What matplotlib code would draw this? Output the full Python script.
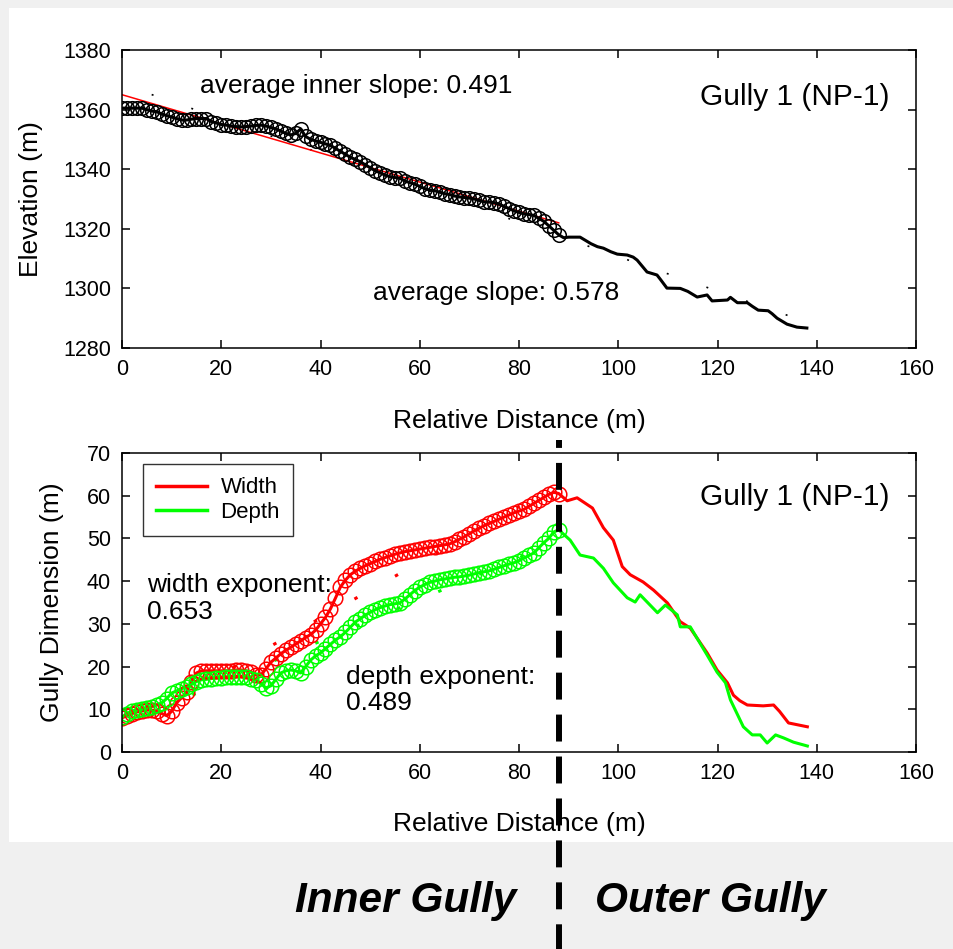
import numpy as np
import matplotlib
matplotlib.use("Agg")
import matplotlib.pyplot as plt
from matplotlib.patches import Rectangle
from matplotlib.transforms import blended_transform_factory

plt.rcParams['font.family'] = ['Liberation Sans', 'DejaVu Sans']
plt.rcParams['lines.scale_dashes'] = False

# elevation profile, circles part (1 m steps, 0..88)
dist_in = list(range(0, 89))
elev_in = [1360.5, 1360.5, 1360.5, 1360.5, 1360.5, 1360, 1359.5, 1359.3, 1358.5, 1358,
           1357.5, 1357, 1356.5, 1356.5, 1356.8, 1357, 1357, 1357, 1356, 1355.5,
           1355, 1354.8, 1354.5, 1354.3, 1354.2, 1354.3, 1354.5, 1354.7, 1354.8, 1354.5,
           1354, 1353.5, 1352.8, 1352, 1351.5, 1352, 1353.5, 1351, 1350, 1349.5,
           1349, 1348.5, 1348, 1347, 1346, 1345, 1344, 1343.3, 1342.5, 1341.5,
           1340.5, 1339.5, 1338.8, 1338, 1337.5, 1337.2, 1337, 1336, 1335.5, 1335,
           1334.2, 1333.5, 1333, 1332.8, 1332.3, 1331.8, 1331.5, 1331, 1330.7, 1330.5,
           1330.3, 1330, 1329.5, 1329, 1329, 1328.8, 1328.3, 1327.5, 1326.8, 1326,
           1325.5, 1325, 1324.8, 1324.5, 1323.5, 1322.5, 1321, 1319.5, 1318]
# outer part of the profile (line only)
dist_out = [89, 90, 92.3, 93, 94.5, 95.8, 97, 98.5, 99.8, 101.8, 103, 103.8, 104.8, 105.8,
            107.8, 108.5, 109.8, 112.5, 114, 115.9, 117.9, 118.9, 122, 122.6, 124, 126,
            127, 128.2, 130.2, 131, 132, 134, 136, 138]
elev_out = [1317, 1317.2, 1317.2, 1316.5, 1315, 1314, 1313.5, 1312.3, 1311.5, 1311.2,
            1310.5, 1309.5, 1307.5, 1305.5, 1304.5, 1303, 1300.1, 1300, 1299, 1297.1,
            1297.8, 1295.8, 1296.1, 1297, 1295.2, 1295.2, 1294, 1292.7, 1292.5, 1291.5,
            1290, 1288, 1287, 1286.7]

# gully width and depth, inner part (1 m steps, 0..88)
width_in = [8, 8.5, 9, 9.4, 9.6, 9.8, 9.8, 9.5, 9, 8.5,
            9.5, 11.5, 12.7, 14, 16.5, 18.5, 19, 19, 19, 19,
            19, 19, 19, 19.2, 19.2, 19, 18.7, 18, 18, 19.5,
            21, 22, 23, 23.8, 24.5, 25.3, 26, 26.8, 27.5, 28.5,
            30, 31.5, 33.5, 36, 38.6, 40.2, 41.5, 42.3, 43, 43.6,
            44.1, 44.6, 45.1, 45.5, 45.9, 46.3, 46.6, 46.9, 47.1, 47.3,
            47.5, 47.7, 47.9, 48.1, 48.3, 48.5, 48.7, 49.2, 49.8, 50.4,
            51.1, 51.8, 52.4, 53, 53.5, 54, 54.5, 55, 55.5, 56,
            56.4, 56.8, 57.5, 58.2, 58.9, 59.6, 60.3, 60.8, 60.5]
depth_in = [8.2, 9, 9.6, 9.8, 10, 10.3, 10.6, 11, 11.5, 12.5,
            13.8, 14.3, 14.8, 15.2, 15.8, 16.5, 16.9, 17, 17.2, 17.3,
            17.4, 17.5, 17.6, 17.6, 17.6, 17.5, 17.2, 16.9, 16, 15,
            15.5, 17, 18.5, 19, 19.2, 19, 18.5, 20, 21.5, 22.5,
            23.2, 24.2, 25.2, 26.2, 27, 28, 29.2, 30.4, 31.2, 32,
            32.7, 33.3, 33.8, 34.2, 34.5, 34.7, 34.9, 35.8, 36.8, 37.8,
            38.6, 39.2, 39.7, 40, 40.3, 40.5, 40.7, 40.9, 41, 41.2,
            41.4, 41.7, 42, 42.2, 42.4, 42.8, 43.2, 43.6, 44, 44.3,
            44.8, 45.4, 46, 46.6, 47.8, 49, 50, 51.5, 52]
# outer part (line only)
wdist_out = [89.7, 91.7, 93, 94.8, 97, 99, 100.8, 102.4, 105, 107.1, 109.9, 112.5, 114.5,
             117.9, 119.9, 122, 123.2, 124.5, 126, 129.2, 131.3, 132.5, 134.3, 138.1]
width_out = [58.8, 59.5, 58.5, 57.1, 52.5, 49.6, 43.4, 41.5, 39.8, 37.9, 34.9, 30.5, 29,
             23.2, 19.2, 16.2, 13.3, 12, 11, 10.8, 11, 9.5, 6.8, 5.9]
ddist_out = [90.3, 92.3, 95, 97, 99, 101.8, 103.4, 104.4, 107.9, 109.5, 111.9, 112.5, 114.5,
             117.9, 119.9, 121.6, 122.6, 125.2, 127, 128.6, 130, 131.7, 133.3, 135.3, 138.1]
depth_out = [49.6, 46.1, 45.4, 43, 39.6, 36.1, 35.1, 36.8, 32.6, 34.4, 32.1, 29.3, 29.3,
             22.7, 18.7, 16.2, 12.2, 5.9, 4, 4, 2.1, 4, 3.3, 2.3, 1.4]

# fitted lines (start, end)
inner_fit_x = [0, 88]
inner_fit_y = [1365, 1322]
avg_fit_x = [0, 138]
avg_fit_y = [1368.5, 1288.7]
wfit_x = [0, 88]
wfit_y = [5.2, 62.7]
dfit_x = [0, 88]
dfit_y = [6.4, 49.4]
boundary = 88

fig = plt.figure(figsize=(9.54, 9.49), dpi=100, facecolor='#f0f0f0')
fig.patches.append(Rectangle((9 / 954, 1 - 842 / 949), 1, (842 - 8) / 949,
                             transform=fig.transFigure, facecolor='white',
                             edgecolor='none', zorder=-10))

ax1 = fig.add_axes([0.1279, 0.6333, 0.8323, 0.314])
ax2 = fig.add_axes([0.1279, 0.2076, 0.8323, 0.3151])

for ax in (ax1, ax2):
    ax.set_xlim(0, 160)
    ax.set_xticks(range(0, 161, 20))
    ax.tick_params(direction='in', length=6, width=1.1, top=True, right=True,
                   labelsize=15.5, pad=8, colors='black')
    for s in ax.spines.values():
        s.set_linewidth(1.1)

# top panel
ax1.set_ylim(1280, 1380)
ax1.set_yticks(range(1280, 1381, 20))
ax1.plot(avg_fit_x, avg_fit_y, color='black', lw=1.2, linestyle=(7.6, (1.4, 28.8)))
ax1.plot(inner_fit_x, inner_fit_y, color='red', lw=1.1)
ax1.plot(dist_in + dist_out, elev_in + elev_out, color='black', lw=2.2)
ax1.plot(dist_in, elev_in, 'o', mfc='none', mec='black', ms=9.8, mew=1.1)
ax1.text(15.7, 1367.9, 'average inner slope: 0.491', fontsize=19, va='center')
ax1.text(50.6, 1298.5, 'average slope: 0.578', fontsize=19, va='center')
ax1.text(116.5, 1364.2, 'Gully 1 (NP-1)', fontsize=21.5, va='center')
ax1.set_xlabel('Relative Distance (m)', fontsize=19)
ax1.set_ylabel('Elevation (m)', fontsize=19)
ax1.xaxis.set_label_coords(0.5, -0.205)
ax1.yaxis.set_label_coords(-0.10, 0.5)

# bottom panel
ax2.set_ylim(0, 70)
ax2.set_yticks(range(0, 71, 10))
ax2.plot(wfit_x, wfit_y, color='red', lw=2.2, linestyle=(9, (2.5, 31)))
ax2.plot(dfit_x, dfit_y, color='#00ff00', lw=2.2, linestyle=(9, (2.5, 29.5)))
lw_, = ax2.plot(dist_in + wdist_out, width_in + width_out, color='red', lw=2.2,
                label='Width')
ld_, = ax2.plot(dist_in + ddist_out, depth_in + depth_out, color='#00ff00', lw=2.2,
                label='Depth')
ax2.plot(dist_in, width_in, 'o', mfc='none', mec='red', ms=10.5, mew=1.1)
ax2.plot(dist_in, depth_in, 'o', mfc='none', mec='#00ff00', ms=10.5, mew=1.1)
ax2.text(5, 36.0, 'width exponent:\n0.653', fontsize=19, va='center', linespacing=1.15)
ax2.text(45.2, 14.5, 'depth exponent:\n0.489', fontsize=19, va='center', linespacing=1.15)
ax2.text(116.5, 59.7, 'Gully 1 (NP-1)', fontsize=21.5, va='center')
ax2.set_xlabel('Relative Distance (m)', fontsize=19)
ax2.set_ylabel('Gully Dimension (m)', fontsize=19)
ax2.xaxis.set_label_coords(0.5, -0.2)
ax2.yaxis.set_label_coords(-0.073, 0.5)
leg = ax2.legend(handles=[lw_, ld_], loc='upper left', bbox_to_anchor=(0.026, 0.963),
                 fontsize=16, frameon=True, fancybox=False, edgecolor='black',
                 handlelength=2.3, handletextpad=0.6, labelspacing=0.15,
                 borderpad=0.6, borderaxespad=0)
leg.get_frame().set_linewidth(1.0)
for h in leg.get_lines():
    h.set_linewidth(2.5)

# dashed boundary between inner and outer gully
tr = blended_transform_factory(ax2.transData, fig.transFigure)
ax2.plot([boundary, boundary], [1 - 440 / 949, 0], transform=tr, color='black',
         lw=4.3, linestyle=(13.7, (19.4, 10.8)), clip_on=False, zorder=10)

fig.text(516 / 954, 1 - 912 / 949, 'Inner Gully', fontsize=30.5, fontweight='bold',
         fontstyle='italic', ha='right', va='baseline')
fig.text(595 / 954, 1 - 912 / 949, 'Outer Gully', fontsize=30.5, fontweight='bold',
         fontstyle='italic', ha='left', va='baseline')

fig.savefig('out.png', dpi=100, facecolor=fig.get_facecolor())
